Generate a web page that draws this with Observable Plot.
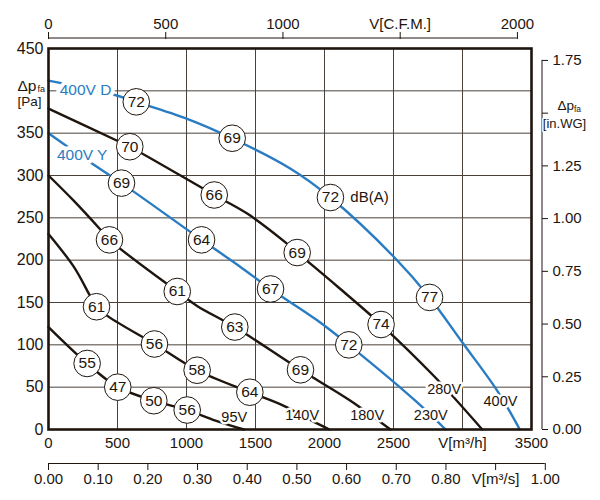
<!DOCTYPE html>
<html>
<head>
<meta charset="utf-8">
<script src="https://cdn.jsdelivr.net/npm/d3@7"></script>
<script src="https://cdn.jsdelivr.net/npm/@observablehq/plot@0.6"></script>
<style>
  html, body { margin: 0; padding: 0; background: #fff; }
  #chart { width: 600px; height: 500px; }
</style>
</head>
<body>
<div id="chart"></div>
<script>
// ---------- data ----------
// primary axes
const xTicks = [0, 500, 1000, 1500, 2000, 2500, 3000, 3500];       // V [m³/h]
const yTicks = [0, 50, 100, 150, 200, 250, 300, 350, 400, 450];    // Δp_fa [Pa]
// secondary axes
const cfmTicks = [0, 500, 1000, 1500, 2000];                        // V [C.F.M.]
const m3sTicks = [0, 0.1, 0.2, 0.3, 0.4, 0.5, 0.6, 0.7, 0.8, 0.9, 1.0]; // V [m³/s]
const inwgTicks = [0, 0.25, 0.5, 0.75, 1.0, 1.25, 1.5, 1.75];      // Δp_fa [in.WG]

// fan curves: [V m³/h, Δp Pa]
const curve400D = [[0,412],[462,396],[636,387],[1005,367],[1331,344],[1754,308],[2043,274],[2502,204],[2761,156],[2998,103],[3251,46],[3415,0]];
const curve280V = [[0,379],[498,341],[589,334],[1201,277],[1440,255],[1717,221],[1802,209],[2100,168],[2410,124],[2800,62],[3143,0]];
const curve400Y = [[0,350],[280,318],[529,291],[1109,224],[1391,192],[1609,166],[1947,129],[2176,100],[2672,32],[2877,0]];
const curve180V = [[0,300],[184,270],[377,236],[442,224],[933,163],[1077,146],[1350,121],[1826,70.5],[2188,34],[2478,0]];
const curve140V = [[0,231],[184,192],[304,157],[348,145],[437,133],[768,101],[1077,70],[1459,44],[1705,28],[1900,11],[2035,0]];
const curve95V  = [[0,121],[280,78],[502,50],[763,34],[1005,23],[1210,10.6],[1416,0]];

// sound levels dB(A) on each curve: [V, Δp, dB]
const db400D = [[636,387,72],[1331,344,69],[2043,274,72],[2761,156,77]];
const db280V = [[589,334,70],[1201,277,66],[1802,209,69],[2410,124,74]];
const db400Y = [[529,291,69],[1109,224,64],[1609,166,67],[2176,100,72]];
const db180V = [[442,224,66],[933,163,61],[1350,121,63],[1826,70.5,69]];
const db140V = [[348,145,61],[768,101,56],[1077,70,58],[1459,44,64]];
const db95V  = [[280,78,55],[502,50,47],[763,34,50],[1005,23,56]];

// curve name labels: [text, V, Δp]
const blueLabels  = [["400V D",268,401],["400V Y",244,324]];
const blackLabels = [["95V",1346,14.5],["140V",1838,16.5],["180V",2309,16.5],["230V",2770,16.5],["280V",2867,48],["400V",3275,33]];
const unitLabel = [["dB(A)",2326,274]];

// unit conversions
const M3H_PER_CFM = 1.69901;
const M3H_PER_M3S = 3600;
const PA_PER_INWG = 249.089;

// ---------- build tables ----------
const blueCurves = [["400V D", curve400D], ["400V Y", curve400Y]];
const blackCurves = [["280V", curve280V], ["180V", curve180V], ["140V", curve140V], ["95V", curve95V]];
const toRows = list => list.flatMap(([name, pts]) => pts.map(([v, p]) => ({name, v, p})));
const blueRows = toRows(blueCurves);
const blackRows = toRows(blackCurves);
const dbRows = [db400D, db280V, db400Y, db180V, db140V, db95V].flat().map(([v, p, db]) => ({v, p, db}));
const labelRows = arr => arr.map(([t, v, p]) => ({t, v, p}));

const BLUE = "#2a7cc2";
const INK = "#1e150e";
const GRID = "#4a423a";
const FONT = "'Liberation Sans', Arial, Helvetica, sans-serif";

const xMax = d3.max(xTicks), yMax = d3.max(yTicks);

const chart = Plot.plot({
  width: 600,
  height: 500,
  marginLeft: 48,
  marginRight: 69,
  marginTop: 48,
  marginBottom: 71,
  x: {domain: [0, xMax]},
  y: {domain: [0, yMax]},
  style: {fontFamily: FONT, fontSize: "15px", color: INK, background: "#fff", overflow: "visible"},
  marks: [
    // grid
    Plot.gridX(xTicks, {stroke: GRID, strokeOpacity: 1, strokeWidth: 1}),
    Plot.gridY(yTicks, {stroke: GRID, strokeOpacity: 1, strokeWidth: 1}),
    // curves
    Plot.line(blackRows, {x: "v", y: "p", z: "name", stroke: INK, strokeWidth: 2.4, curve: "catmull-rom"}),
    Plot.line(blueRows, {x: "v", y: "p", z: "name", stroke: BLUE, strokeWidth: 2.4, curve: "catmull-rom"}),
    // curve labels with white halo
    Plot.text(labelRows(blueLabels), {x: "v", y: "p", text: "t", fill: BLUE, stroke: "#fff", strokeWidth: 8, paintOrder: "stroke", fontSize: 15.5, textAnchor: "middle", lineAnchor: "middle"}),
    Plot.text(labelRows(blackLabels), {x: "v", y: "p", text: "t", fill: INK, stroke: "#fff", strokeWidth: 5, paintOrder: "stroke", fontSize: 14.5, textAnchor: "middle", lineAnchor: "middle"}),
    Plot.text(labelRows(unitLabel), {x: "v", y: "p", text: "t", fill: INK, fontSize: 15, textAnchor: "middle", lineAnchor: "middle"}),
    // dB(A) circles
    Plot.dot(dbRows, {x: "v", y: "p", r: 13.3, fill: "#fff", stroke: INK, strokeWidth: 1}),
    Plot.text(dbRows, {x: "v", y: "p", text: "db", fill: INK, fontSize: 15.5, textAnchor: "middle", lineAnchor: "middle"}),
    // frame
    Plot.frame({stroke: INK, strokeWidth: 2.6}),
    // left axis Pa
    Plot.axisY(yTicks, {anchor: "left", label: null, tickSize: 0, tickPadding: 5, fontSize: 16, fill: INK,
      tickFormat: v => v === 400 ? "" : String(v)}),
    Plot.text([[400]], {x: 0, y: d => d[0], text: () => "Δp", textAnchor: "end", lineAnchor: "middle", dx: -12, dy: -5, fontSize: 15.5, fill: INK}),
    Plot.text([[400]], {x: 0, y: d => d[0], text: () => "fa", textAnchor: "start", lineAnchor: "middle", dx: -11, dy: -2, fontSize: 9, fill: INK}),
    Plot.text([[400]], {x: 0, y: d => d[0], text: () => "[Pa]", textAnchor: "end", lineAnchor: "middle", dx: -7, dy: 11, fontSize: 13.5, fill: INK}),
    // bottom axis m³/h
    Plot.axisX(xTicks, {anchor: "bottom", label: null, tickSize: 0, tickPadding: 8, fontSize: 15, fill: INK,
      tickFormat: v => v === 3000 ? "V[m³/h]" : String(v)}),
    // bottom axis m³/s
    Plot.ruleY([0], {x1: 0, x2: d3.max(m3sTicks) * M3H_PER_M3S, dy: 34, stroke: INK, strokeWidth: 1}),
    Plot.axisX(m3sTicks.map(t => t * M3H_PER_M3S), {anchor: "bottom", label: null, dy: 34, tickSize: 7, tickPadding: 3, fontSize: 15, stroke: INK, fill: INK,
      tickFormat: v => { const t = v / M3H_PER_M3S; return Math.abs(t - 0.9) < 1e-6 ? "V[m³/s]" : t.toFixed(2); }}),
    // top axis CFM
    Plot.ruleY([yMax], {x1: 0, x2: d3.max(cfmTicks) * M3H_PER_CFM, dy: -10.5, stroke: INK, strokeWidth: 1}),
    Plot.axisX(cfmTicks.map(c => c * M3H_PER_CFM), {anchor: "top", label: null, dy: -10, tickSize: 7, tickPadding: 3, fontSize: 15, stroke: INK, fill: INK,
      tickFormat: v => { const c = Math.round(v / M3H_PER_CFM); return c === 1500 ? "V[C.F.M.]" : String(c); }}),
    // right axis in.WG
    Plot.ruleX([xMax], {y1: 0, y2: d3.max(inwgTicks) * PA_PER_INWG, dx: 10.5, stroke: INK, strokeWidth: 1}),
    Plot.axisY(inwgTicks.map(t => t * PA_PER_INWG), {anchor: "right", label: null, dx: 10, tickSize: 6, tickPadding: 5, fontSize: 15, stroke: INK, fill: INK,
      tickFormat: v => { const t = v / PA_PER_INWG; return Math.abs(t - 1.5) < 1e-6 ? "" : t.toFixed(2); }}),
    Plot.text([[1.5]], {x: xMax, y: d => d[0] * PA_PER_INWG, text: () => "[in.WG]", textAnchor: "middle", lineAnchor: "middle", dx: 33, dy: 11, fontSize: 13, fill: INK, stroke: "#fff", strokeWidth: 3, paintOrder: "stroke"}),
    Plot.text([[1.5]], {x: xMax, y: d => d[0] * PA_PER_INWG, text: () => "Δp", textAnchor: "start", lineAnchor: "middle", dx: 26, dy: -7, fontSize: 13.5, fill: INK}),
    Plot.text([[1.5]], {x: xMax, y: d => d[0] * PA_PER_INWG, text: () => "fa", textAnchor: "start", lineAnchor: "middle", dx: 42.5, dy: -3.5, fontSize: 8.5, fill: INK})
  ]
});

document.getElementById("chart").appendChild(chart);
</script>
</body>
</html>
